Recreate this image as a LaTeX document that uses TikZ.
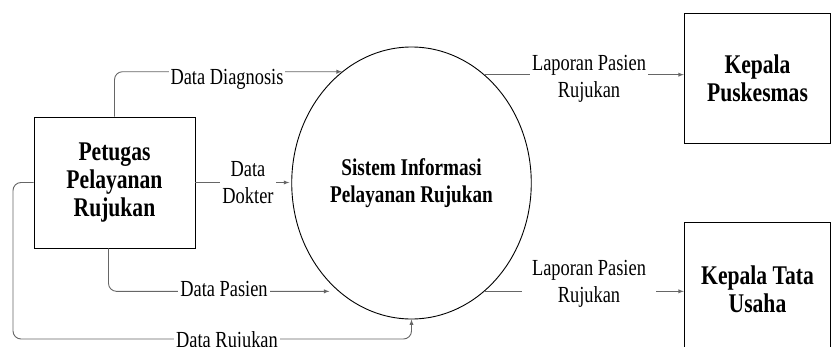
\documentclass[tikz,border=0pt]{standalone}
\usepackage{fontspec}
\setmainfont[FakeStretch=0.8]{Liberation Serif}
\usetikzlibrary{shapes,backgrounds}
\usetikzlibrary{arrows}

\begin{document}
\begin{tikzpicture}[x=1pt,y=1pt,
  entity/.style={draw,line width=0.9pt,align=center,font=\fontsize{27}{28}\selectfont\bfseries},
  flow/.style={draw=black!60,line width=0.9pt,rounded corners=8pt,-latex},
  lbl/.style={fill=white,align=center,inner sep=2pt,font=\fontsize{23}{27}\selectfont}]
\useasboundingbox (0,0) rectangle (832,346);
\clip (0,0) rectangle (832,346);
\node[entity,minimum width=161,minimum height=131] (petugas) at (114.5,163.5) {Petugas\\Pelayanan\\Rujukan};
\node[entity,ellipse,minimum width=219,minimum height=272,font=\fontsize{24}{27}\selectfont\bfseries] (sistem) at (411.5,163) {Sistem Informasi\\Pelayanan Rujukan};
\node[entity,minimum width=146.5,minimum height=130] (puskesmas) at (757.5,268) {Kepala\\Puskesmas};
\node[entity,minimum width=146.5,minimum height=134] (tatausaha) at (757.5,57) {Kepala Tata\\Usaha};
\coordinate (rujukan) at (13,7);
\draw[flow] (petugas.north) |- (sistem.122);
\draw[flow,shorten >=2pt] (petugas.east) -- (petugas.east -| sistem.west);
\draw[flow,shorten >=9pt] ([xshift=-6pt]petugas.south) |- (sistem.236);
\draw[flow] (petugas.west) -| (rujukan) -| (sistem.south);
\draw[flow] (sistem.56) -- (sistem.56 -| puskesmas.west);
\draw[flow] (sistem.-56) -- (sistem.-56 -| tatausaha.west);
\node[lbl] (diagnosis) at (227,267) {Data Diagnosis};
\node[lbl] (dokter) at (248,163) {Data\\Dokter};
\node[lbl] (pasien) at (224,57) {Data Pasien};
\node[lbl] (datarujukan) at (227,4) {Data Rujukan};
\node[lbl] (laporan1) at (589,267) {Laporan Pasien\\Rujukan};
\node[lbl,inner xsep=10pt] (laporan2) at (589,62) {Laporan Pasien\\Rujukan};
\end{tikzpicture}
\end{document}
